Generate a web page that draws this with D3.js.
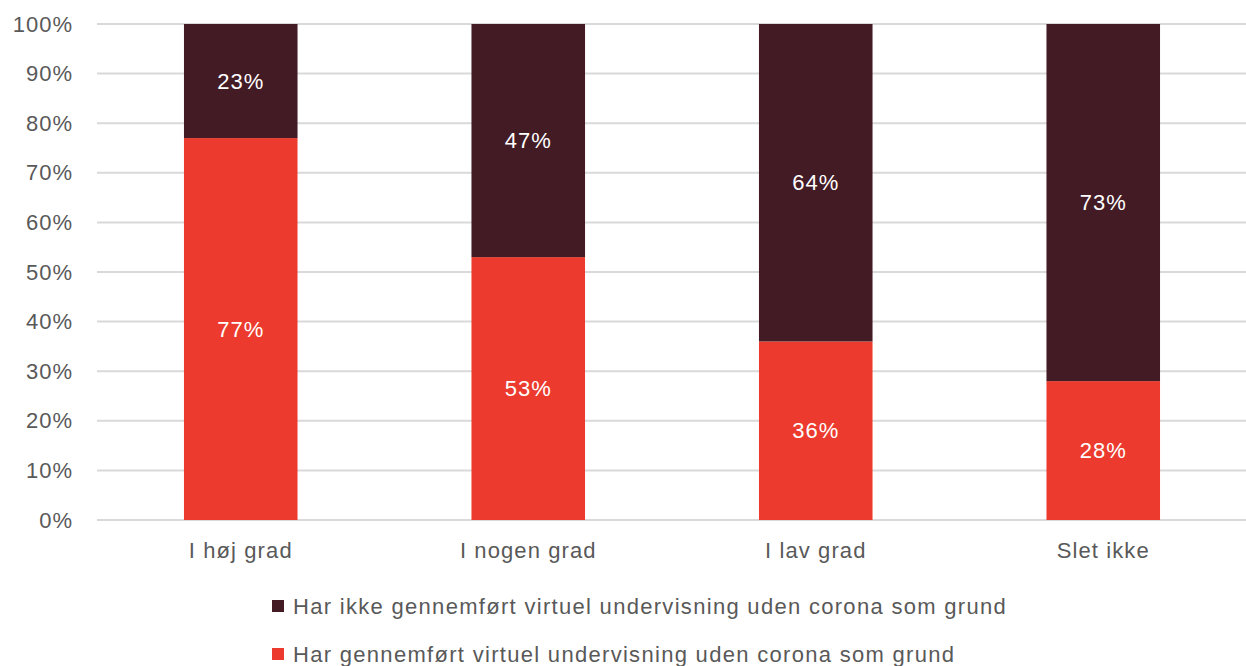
<!DOCTYPE html>
<html><head><meta charset="utf-8">
<script src="https://cdn.jsdelivr.net/npm/d3@7"></script>
<style>
body{margin:0;background:#fff;}
text{font-family:"Liberation Sans",Arial,sans-serif;}
</style></head>
<body><svg id="c" width="1246" height="666"></svg>
<script>
const categories = ["I høj grad","I nogen grad","I lav grad","Slet ikke"];
const redValues = [77,53,36,28];
const darkValues = [23,47,64,73];
const yTicks = [0,10,20,30,40,50,60,70,80,90,100];
const seriesNames = ["Har ikke gennemført virtuel undervisning uden corona som grund","Har gennemført virtuel undervisning uden corona som grund"];
const colors = {dark:"#431b25", red:"#ec3b2e"};

const svg = d3.select("#c");
const x = d3.scaleBand().domain(categories).range([97,1247]).paddingInner(0.605).paddingOuter(0.3025);
const y = d3.scaleLinear().domain([0,100]).range([520,24]);

const grid = svg.append("g");
grid.selectAll("line").data(yTicks).join("line")
  .attr("x1",97).attr("x2",1246).attr("y1",d=>y(d)).attr("y2",d=>y(d))
  .attr("stroke","#d9d9d9").attr("stroke-width",2);

const yAxis = svg.append("g").attr("transform","translate(97,0)")
  .call(d3.axisLeft(y).tickValues(yTicks).tickFormat(d=>d+"%").tickSize(0).tickPadding(24));
yAxis.select(".domain").remove();
yAxis.selectAll("text").attr("font-size",22).attr("fill","#595959").attr("font-family","Liberation Sans, Arial, sans-serif").attr("letter-spacing","1px");

const data = categories.map((c,i)=>({c, red:redValues[i], dark:darkValues[i]}));
const g = svg.append("g");
g.selectAll("rect.red").data(data).join("rect").attr("class","red")
  .attr("x",d=>x(d.c)).attr("width",x.bandwidth())
  .attr("y",d=>y(d.red)).attr("height",d=>y(0)-y(d.red)).attr("fill",colors.red);
g.selectAll("rect.dark").data(data).join("rect").attr("class","dark")
  .attr("x",d=>x(d.c)).attr("width",x.bandwidth())
  .attr("y",y(100)).attr("height",d=>y(d.red)-y(100)).attr("fill",colors.dark);

g.selectAll("text.rl").data(data).join("text").attr("class","rl")
  .attr("x",d=>x(d.c)+x.bandwidth()/2).attr("y",d=>(y(0)+y(d.red))/2)
  .attr("dy","0.35em").attr("text-anchor","middle").attr("fill","#fff").attr("font-size",22).attr("letter-spacing","1px")
  .text(d=>d.red+"%");
g.selectAll("text.dl").data(data).join("text").attr("class","dl")
  .attr("x",d=>x(d.c)+x.bandwidth()/2).attr("y",d=>(y(100)+y(d.red))/2)
  .attr("dy","0.35em").attr("text-anchor","middle").attr("fill","#fff").attr("font-size",22).attr("letter-spacing","1px")
  .text(d=>d.dark+"%");

const xAxis = svg.append("g").attr("transform","translate(0,520)")
  .call(d3.axisBottom(x).tickSize(0).tickPadding(22));
xAxis.select(".domain").remove();
xAxis.selectAll("text").attr("font-size",22).attr("fill","#595959").attr("font-family","Liberation Sans, Arial, sans-serif").attr("letter-spacing","1.1px");

const leg = svg.append("g");
const legColors = [colors.dark, colors.red];
const li = leg.selectAll("g").data(seriesNames).join("g")
  .attr("transform",(d,i)=>`translate(272,${606+i*48})`);
li.append("rect").attr("x",0).attr("y",-6).attr("width",12).attr("height",12).attr("fill",(d,i)=>legColors[i]);
li.append("text").attr("x",21).attr("y",0).attr("dy","0.35em").attr("font-size",22).attr("fill","#595959").attr("letter-spacing","1.3px").text(d=>d);
</script></body></html>
